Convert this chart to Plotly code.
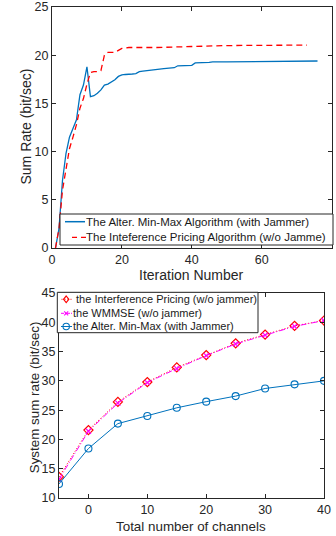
import plotly.graph_objects as go

# ---- Top chart data ----
iter_blue = [1, 2, 3, 4, 5, 6, 7, 8, 9, 10, 11, 12, 13, 14, 15, 16, 17, 18, 19, 20,
             21, 22, 23, 24, 25, 26, 28, 30, 32, 35, 36, 40, 41, 45, 46, 50, 60, 76]
rate_blue = [0, 2.0, 7.0, 9.8, 11.5, 12.4, 13.3, 15.9, 16.9, 18.8, 15.7, 15.8, 16.05, 16.4,
             16.9, 17.0, 17.25, 17.45, 17.8, 17.95, 18.0, 18.0, 18.05, 18.1, 18.3, 18.35,
             18.45, 18.55, 18.6, 18.7, 18.9, 18.95, 19.2, 19.25, 19.3, 19.3, 19.35, 19.4]
iter_red = [1, 2, 3, 4, 5, 6, 7, 8, 9, 10, 11, 12, 13, 14, 15, 16, 17, 18, 19, 20,
            22, 30, 40, 50, 73]
rate_red = [0, 2.0, 6.0, 8.4, 10.3, 11.5, 12.8, 14.5, 15.5, 17.0, 18.2, 18.3, 18.3, 18.4,
            20.0, 20.3, 20.3, 20.3, 20.5, 20.7, 20.8, 20.8, 20.9, 21.0, 21.05]
top_names = ["The Alter. Min-Max Algorithm (with Jammer)",
             "The Inteference Pricing Algorithm (w/o Jamme)"]

# ---- Bottom chart data ----
channels = [-5, 0, 5, 10, 15, 20, 25, 30, 35, 40]
pricing = [13.6, 21.6, 26.4, 29.8, 32.3, 34.4, 36.4, 37.9, 39.4, 40.3]
wmmse = [13.2, 21.4, 26.2, 29.7, 32.1, 34.3, 36.3, 37.8, 39.3, 40.3]
minmax = [12.4, 18.45, 22.7, 24.0, 25.4, 26.45, 27.4, 28.7, 29.4, 30.0]
bot_names = [" the Interference Pricing (w/o jammer)",
             "the WMMSE (w/o jammer)",
             "the Alter. Min-Max (with Jammer)"]

top_xticks = [0, 20, 40, 60, 80]
top_yticks = [0, 5, 10, 15, 20, 25]
bot_xticks = [0, 10, 20, 30, 40]
bot_yticks = [10, 15, 20, 25, 30, 35, 40, 45]

BLUE = "#0072BD"
RED = "#FF0000"
MAG = "#FF00FF"
AX = "#262626"
TXT = "#1a1a1a"
FONT = "Liberation Sans, Arial, sans-serif"

W, H = 336, 536


def px(x):
    return x / W


def py(y):
    return (H - y) / H


fig = go.Figure()

fig.add_trace(go.Scatter(x=iter_blue, y=rate_blue, mode="lines",
                         line=dict(color=BLUE, width=1.3), name=top_names[0],
                         xaxis="x", yaxis="y", showlegend=False))
fig.add_trace(go.Scatter(x=iter_red, y=rate_red, mode="lines",
                         line=dict(color=RED, width=1.3, dash="6px,4px"), name=top_names[1],
                         xaxis="x", yaxis="y", showlegend=False))

fig.add_trace(go.Scatter(x=channels, y=pricing, mode="lines+markers",
                         line=dict(color=RED, width=1, dash="1px,2px"),
                         marker=dict(symbol="diamond-open", size=7, color=RED, line=dict(width=1.2)),
                         name=bot_names[0], xaxis="x2", yaxis="y2", showlegend=False))
fig.add_trace(go.Scatter(x=channels, y=wmmse, mode="lines+markers",
                         line=dict(color=MAG, width=1, dash="6px,2px,1px,2px"),
                         marker=dict(symbol="x-thin-open", size=5, color=MAG,
                                     line=dict(width=1.2, color=MAG)),
                         name=bot_names[1], xaxis="x2", yaxis="y2", showlegend=False))
fig.add_trace(go.Scatter(x=channels, y=minmax, mode="lines+markers",
                         line=dict(color=BLUE, width=1),
                         marker=dict(symbol="circle-open", size=7, color=BLUE, line=dict(width=1.1)),
                         name=bot_names[2], xaxis="x2", yaxis="y2", showlegend=False))

axis_common = dict(showline=True, linecolor=AX, linewidth=1, mirror="ticks",
                   ticks="inside", ticklen=4, tickcolor=AX, showgrid=False,
                   zeroline=False, tickfont=dict(family=FONT, size=12.5, color=AX))

# ---- hand-drawn legends (boxes, keys, texts) ----
shapes = []
annotations = []

# top legend
shapes.append(dict(type="rect", xref="paper", yref="paper", x0=px(60), x1=px(333),
                   y0=py(245), y1=py(214), line=dict(color=AX, width=1), fillcolor="white",
                   layer="above"))
top_rows = [221.7, 237.3]
shapes.append(dict(type="line", xref="paper", yref="paper", x0=px(65), x1=px(85),
                   y0=py(top_rows[0]), y1=py(top_rows[0]),
                   line=dict(color=BLUE, width=1.5), layer="above"))
shapes.append(dict(type="line", xref="paper", yref="paper", x0=px(72), x1=px(86),
                   y0=py(top_rows[1]), y1=py(top_rows[1]),
                   line=dict(color=RED, width=1.3, dash="5px,4px"), layer="above"))
for name, yy in zip(top_names, top_rows):
    annotations.append(dict(text=name, x=px(84), y=py(yy), xref="paper", yref="paper",
                            xanchor="left", yanchor="middle", showarrow=False,
                            font=dict(family=FONT, size=11.5, color=TXT)))

# bottom legend
shapes.append(dict(type="rect", xref="paper", yref="paper", x0=px(57.3), x1=px(258),
                   y0=py(332.7), y1=py(292.3), line=dict(color=AX, width=1), fillcolor="white",
                   layer="above"))
bot_rows = [299.3, 313.3, 326.5]
mx = 66.2
# row 1: red dotted + diamond
shapes.append(dict(type="line", xref="paper", yref="paper", x0=px(61.5), x1=px(71.5),
                   y0=py(bot_rows[0]), y1=py(bot_rows[0]),
                   line=dict(color=RED, width=1, dash="1px,2px"), layer="above"))
d = 3.3
shapes.append(dict(type="path", xref="paper", yref="paper",
                   path=f"M {px(mx)},{py(bot_rows[0]-d)} L {px(mx+d*0.8)},{py(bot_rows[0])} "
                        f"L {px(mx)},{py(bot_rows[0]+d)} L {px(mx-d*0.8)},{py(bot_rows[0])} Z",
                   line=dict(color=RED, width=1.2), layer="above"))
# row 2: magenta dash-dot + x
shapes.append(dict(type="line", xref="paper", yref="paper", x0=px(61), x1=px(72),
                   y0=py(bot_rows[1]), y1=py(bot_rows[1]),
                   line=dict(color=MAG, width=1, dash="3px,1px,1px,1px"), layer="above"))
k = 2.0
for s in (1, -1):
    shapes.append(dict(type="line", xref="paper", yref="paper",
                       x0=px(mx - k), x1=px(mx + k), y0=py(bot_rows[1] - s * k),
                       y1=py(bot_rows[1] + s * k), line=dict(color=MAG, width=1.1),
                       layer="above"))
# row 3: blue solid + circle
shapes.append(dict(type="line", xref="paper", yref="paper", x0=px(61), x1=px(72),
                   y0=py(bot_rows[2]), y1=py(bot_rows[2]),
                   line=dict(color=BLUE, width=1), layer="above"))
c = 3.2
shapes.append(dict(type="circle", xref="paper", yref="paper", x0=px(mx - c), x1=px(mx + c),
                   y0=py(bot_rows[2] + c), y1=py(bot_rows[2] - c),
                   line=dict(color=BLUE, width=1.1), fillcolor="rgba(0,0,0,0)", layer="above"))
for name, yy in zip(bot_names, bot_rows):
    annotations.append(dict(text=name, x=px(71), y=py(yy), xref="paper", yref="paper",
                            xanchor="left", yanchor="middle", showarrow=False,
                            font=dict(family=FONT, size=11, color=TXT)))

# axis titles
title_common = dict(xref="paper", yref="paper", xanchor="center", yanchor="middle",
                    showarrow=False)
annotations += [
    dict(text="Iteration Number", x=px(191), y=py(275),
         font=dict(size=14, color=AX, family=FONT), **title_common),
    dict(text="Sum Rate (bit/sec)", x=px(26), y=py(126.5), textangle=-90,
         font=dict(size=14, color=AX, family=FONT), **title_common),
    dict(text="Total number of channels", x=px(190.5), y=py(526),
         font=dict(size=13.4, color=AX, family=FONT), **title_common),
    dict(text="System sum rate (bit/sec)", x=px(34.3), y=py(397), textangle=-90,
         font=dict(size=13.4, color=AX, family=FONT), **title_common),
]

fig.update_layout(
    width=W, height=H,
    margin=dict(l=0, r=0, t=0, b=0, autoexpand=False),
    paper_bgcolor="white", plot_bgcolor="white",
    font=dict(family=FONT, color=AX),
    showlegend=False,
    xaxis=dict(domain=[px(52), px(331.5)], range=[0, 80], tickvals=top_xticks,
               anchor="y", **axis_common),
    yaxis=dict(domain=[py(248), py(7)], range=[0, 25], tickvals=top_yticks,
               anchor="x", **axis_common),
    xaxis2=dict(domain=[px(59), px(324)], range=[-5, 40], tickvals=bot_xticks,
                anchor="y2", **axis_common),
    yaxis2=dict(domain=[py(498), py(293)], range=[10, 45], tickvals=bot_yticks,
                anchor="x2", **axis_common),
    shapes=shapes,
    annotations=annotations,
)

fig.write_html("out.html",
               config={"displayModeBar": False},
               post_script="document.body.style.margin='0';"
                           "document.documentElement.style.overflow='hidden';")
